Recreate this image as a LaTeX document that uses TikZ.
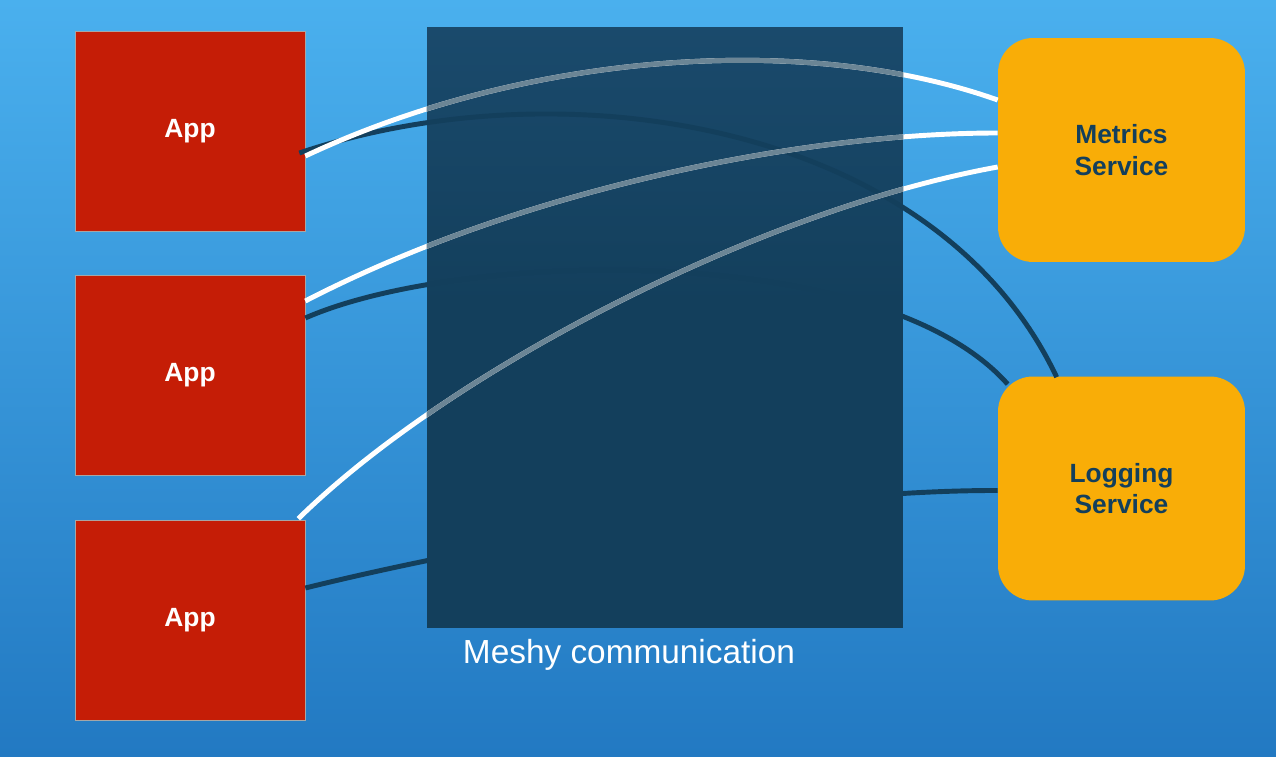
\documentclass[tikz,border=0pt]{standalone}
\usepackage{fontspec}
\setmainfont{Liberation Sans}
\usepackage{tikz}
\usetikzlibrary{positioning, calc}

\definecolor{bgtop}{HTML}{4AB0EE}
\definecolor{bgbot}{HTML}{2279C2}
\definecolor{appred}{HTML}{C51D06}
\definecolor{svcorange}{HTML}{F9AD07}
\definecolor{meshnavy}{HTML}{133F5C}
\definecolor{meshtop}{HTML}{1A4A6C}
\definecolor{meshgray}{HTML}{6B8595}

% lighter band at the top of the mesh box
\pgfdeclareverticalshading{meshshade}{100bp}{color(0bp)=(meshnavy); color(52bp)=(meshnavy);
  color(75bp)=(meshtop); color(100bp)=(meshtop)}

\newcommand{\metricslinks}[1]{%
  \draw[#1] ($(app1.east)+(0,25)$) .. controls (520,55) and (800,30) .. ($(metrics.west)+(0,-50)$);
  \draw[#1] ($(app2.east)+(0,-74)$) .. controls (520,190) and (800,133) .. ($(metrics.west)+(0,-17)$);
  \draw[#1] ($(app3.north east)+(-7,-1)$) .. controls (450,370) and (760,210) .. ($(metrics.west)+(0,17)$);
}

\begin{document}
\begin{tikzpicture}[x=0.02cm, y=-0.02cm,
  app/.style={draw=gray!70, fill=appred, minimum width=4.6cm, minimum height=4cm,
    text=white, font=\bfseries\fontsize{15}{18}\selectfont},
  svc/.style={fill=svcorange, rounded corners=0.7cm, minimum width=4.94cm, minimum height=4.48cm,
    text=meshnavy, align=center, font=\bfseries\fontsize{15}{18}\selectfont},
  metricslink/.style={white, line width=2.8pt},
  logginglink/.style={meshnavy, line width=2.8pt}]

% Background
\shade[top color=bgtop, bottom color=bgbot] (0,0) rectangle (1276,757);

% Apps
\node[app] (app1) at (190,131) {App};
\node[app] (app2) at (190,375) {App};
\node[app] (app3) at (190,620) {App};

% Services
\node[svc] (metrics) at (1121.5,150) {Metrics\\Service};
\node[svc] (logging) at (1121.5,488.5) {Logging\\Service};

% Mesh
\node[shading=meshshade, minimum width=9.52cm, minimum height=12.02cm, inner sep=0] (mesh) at (665,327.5) {};
\node[text=white, font=\fontsize{19}{23}\selectfont] (meshlabel) at (629,655) {Meshy communication};

% Links to logging
\draw[logginglink] ($(app1.east)+(-6,22)$) .. controls (560,65) and (935,120) .. ($(logging.north west)+(59,1)$);
\draw[logginglink] ($(app2.east)+(0,-57)$) .. controls (460,250) and (880,240) .. ($(logging.north west)+(10,8)$);
\draw[logginglink] ($(app3.east)+(0,-32)$) .. controls (500,540) and (800,490) .. ($(logging.west)+(0,2)$);

% Links to metrics
\metricslinks{metricslink}
\begin{scope}
  \clip (mesh.north west) rectangle (mesh.south east);
  \metricslinks{metricslink, meshgray}
\end{scope}
\end{tikzpicture}
\end{document}
